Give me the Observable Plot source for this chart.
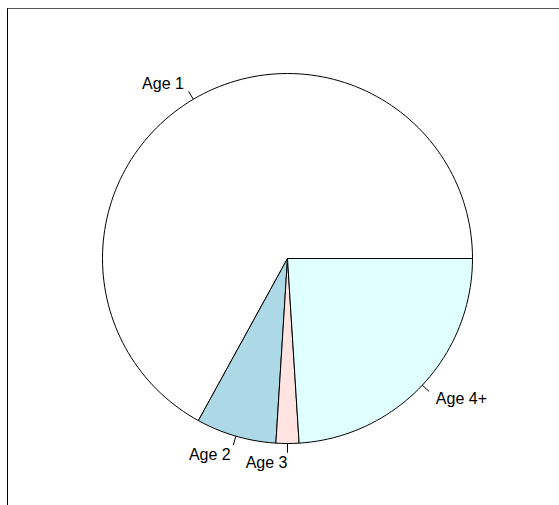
<!DOCTYPE html>
<html>
<head>
<meta charset="utf-8">
<script src="https://cdn.jsdelivr.net/npm/d3@7"></script>
<script src="https://cdn.jsdelivr.net/npm/@observablehq/plot@0.6"></script>
<style>
  html, body { margin: 0; padding: 0; background: #fff; }
  #wrap { position: relative; width: 559px; height: 505px; overflow: hidden; }
  #frame { position: absolute; left: 7px; top: 8px; width: 600px; height: 600px;
           border-top: 1px solid #555; border-left: 1px solid #000; pointer-events: none; }
  #chart { position: absolute; left: 0; top: 0; }
</style>
</head>
<body>
<div id="wrap"><div id="chart"></div><div id="frame"></div></div>
<script>
const categories = ["Age 1", "Age 2", "Age 3", "Age 4+"];
const values = [67, 7, 2, 24];
const colors = ["white", "lightblue", "mistyrose", "lightcyan"];

// R pie() geometry: counter-clockwise from 3 o'clock, radius 1, 200 edges for full circle
const total = d3.sum(values);
const cum = [0, ...d3.cumsum(values).map(v => v / total)];
const edges = 200;
const slices = categories.map((name, i) => {
  const a0 = cum[i], a1 = cum[i + 1];
  const n = Math.max(2, Math.floor(edges * (a1 - a0)));
  const pts = [{x: 0, y: 0}];
  for (let k = 0; k <= n; k++) {
    const t = 2 * Math.PI * (a0 + (a1 - a0) * k / n);
    pts.push({x: Math.cos(t), y: Math.sin(t)});
  }
  pts.push({x: 0, y: 0});
  const tm = 2 * Math.PI * (a0 + a1) / 2;
  const cx = Math.cos(tm), cy = Math.sin(tm);
  return {name, color: colors[i], pts, cx, cy};
});
const labels = slices.map(s => ({
  name: s.name,
  x1: s.cx, y1: s.cy, x2: 1.05 * s.cx, y2: 1.05 * s.cy,
  lx: 1.1 * s.cx, ly: 1.1 * s.cy,
  left: s.cx < 1e-9
}));

const W = 559, H = 505, CX = 287, CY = 258, R = 185;
const chart = Plot.plot({
  width: W, height: H,
  margin: 0,
  x: {domain: [-CX / R, (W - CX) / R], axis: null},
  y: {domain: [-(H - CY) / R, CY / R], axis: null},
  style: {background: "white"},
  marks: [
    ...slices.map(s => Plot.line(s.pts, {x: "x", y: "y", fill: s.color, stroke: "black", strokeWidth: 1, curve: "linear"})),
    Plot.link(labels, {x1: "x1", y1: "y1", x2: "x2", y2: "y2", stroke: "black", strokeWidth: 1}),
    Plot.text(labels.filter(d => d.left), {x: "lx", y: "ly", text: "name", textAnchor: "end", fontSize: 16, dy: 1,
      fontFamily: "Liberation Sans, Arial, sans-serif", fill: "black"}),
    Plot.text(labels.filter(d => !d.left), {x: "lx", y: "ly", text: "name", textAnchor: "start", fontSize: 16, dy: 1,
      fontFamily: "Liberation Sans, Arial, sans-serif", fill: "black"})
  ]
});
document.getElementById("chart").appendChild(chart);
</script>
</body>
</html>
